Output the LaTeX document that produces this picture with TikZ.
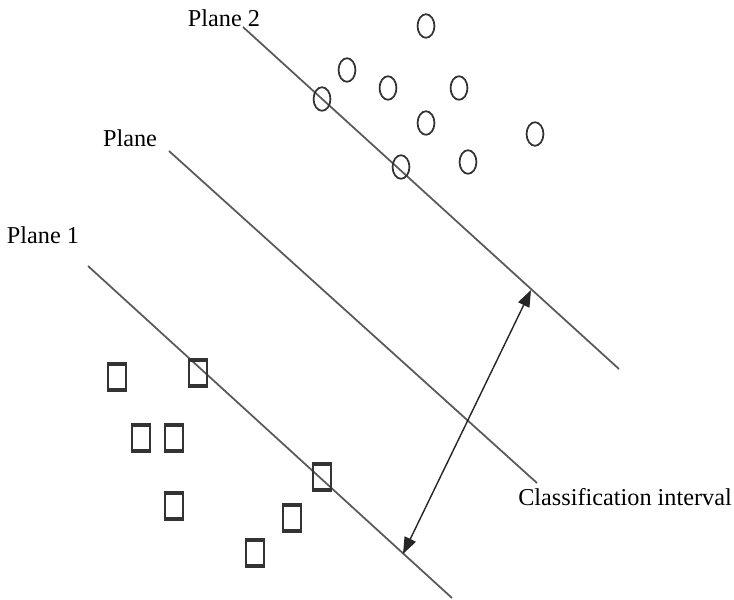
\documentclass[tikz,border=0pt]{standalone}
\usepackage{fontspec}
\setmainfont{Liberation Serif}
\usepackage{tikz}
\usetikzlibrary{shapes.geometric}
\usetikzlibrary{arrows.meta}

\begin{document}
\begin{tikzpicture}[x=0.02cm,y=-0.02cm,
		node font=\fontsize{13.8}{16}\selectfont,
		plane/.style={draw=black!65,line width=1pt},
		ring/.style={ellipse,draw=black!80,line width=1pt,minimum width=9.6pt,minimum height=13.4pt,inner sep=0pt},
		box/.style={rectangle,draw=black!80,line width=1pt,minimum width=10pt,minimum height=16pt,inner sep=0pt,
			path picture={\draw[line width=3pt] (path picture bounding box.north west) -- (path picture bounding box.north east);
				\draw[line width=3pt] (path picture bounding box.south west) -- (path picture bounding box.south east);}},
		gap/.style={black!85,line width=0.8pt,{Triangle[length=9.5pt,width=7pt]}-{Triangle[length=9.5pt,width=7pt]}}]
			\useasboundingbox (0,0) rectangle (734,599);
			% the three planes
			\coordinate (p2a) at (243,27);
			\coordinate (p2b) at (619,369);
			\coordinate (pma) at (169,151);
			\coordinate (pmb) at (537,483);
			\coordinate (p1a) at (88,266);
			\coordinate (p1b) at (452,598);
			\draw[plane] (p2a) -- (p2b);
			\draw[plane] (pma) -- (pmb);
			\draw[plane] (p1a) -- (p1b);
			% circle class
				\node[ring] (c1) at (426,26) {};
				\node[ring] (c2) at (347,70) {};
				\node[ring] (c3) at (388,88) {};
				\node[ring] (c4) at (459,88) {};
				\node[ring] (c5) at (322,99) {};
				\node[ring] (c6) at (426,123) {};
				\node[ring] (c7) at (535,134) {};
				\node[ring] (c8) at (401,167) {};
				\node[ring] (c9) at (468,162) {};
			% square class
				\node[box] (s1) at (117,377) {};
				\node[box] (s2) at (198,373) {};
				\node[box] (s3) at (141,438) {};
				\node[box] (s4) at (174,438) {};
				\node[box] (s5) at (174,506) {};
				\node[box] (s6) at (322,477) {};
				\node[box] (s7) at (292,518) {};
				\node[box] (s8) at (255,553) {};
			% interval between the outer planes
			\coordinate (gtop) at (531,290);
			\coordinate (gbot) at (403,554);
			\draw[gap] (gbot) -- (gtop);
			% labels
				\node (lp2) at (224,18) {Plane 2};
				\node (lpm) at (130,138) {Plane};
				\node (lp1) at (43,235) {Plane 1};
				\node (lgap) at (625,497) {Classification interval};
		\end{tikzpicture}
\end{document}
